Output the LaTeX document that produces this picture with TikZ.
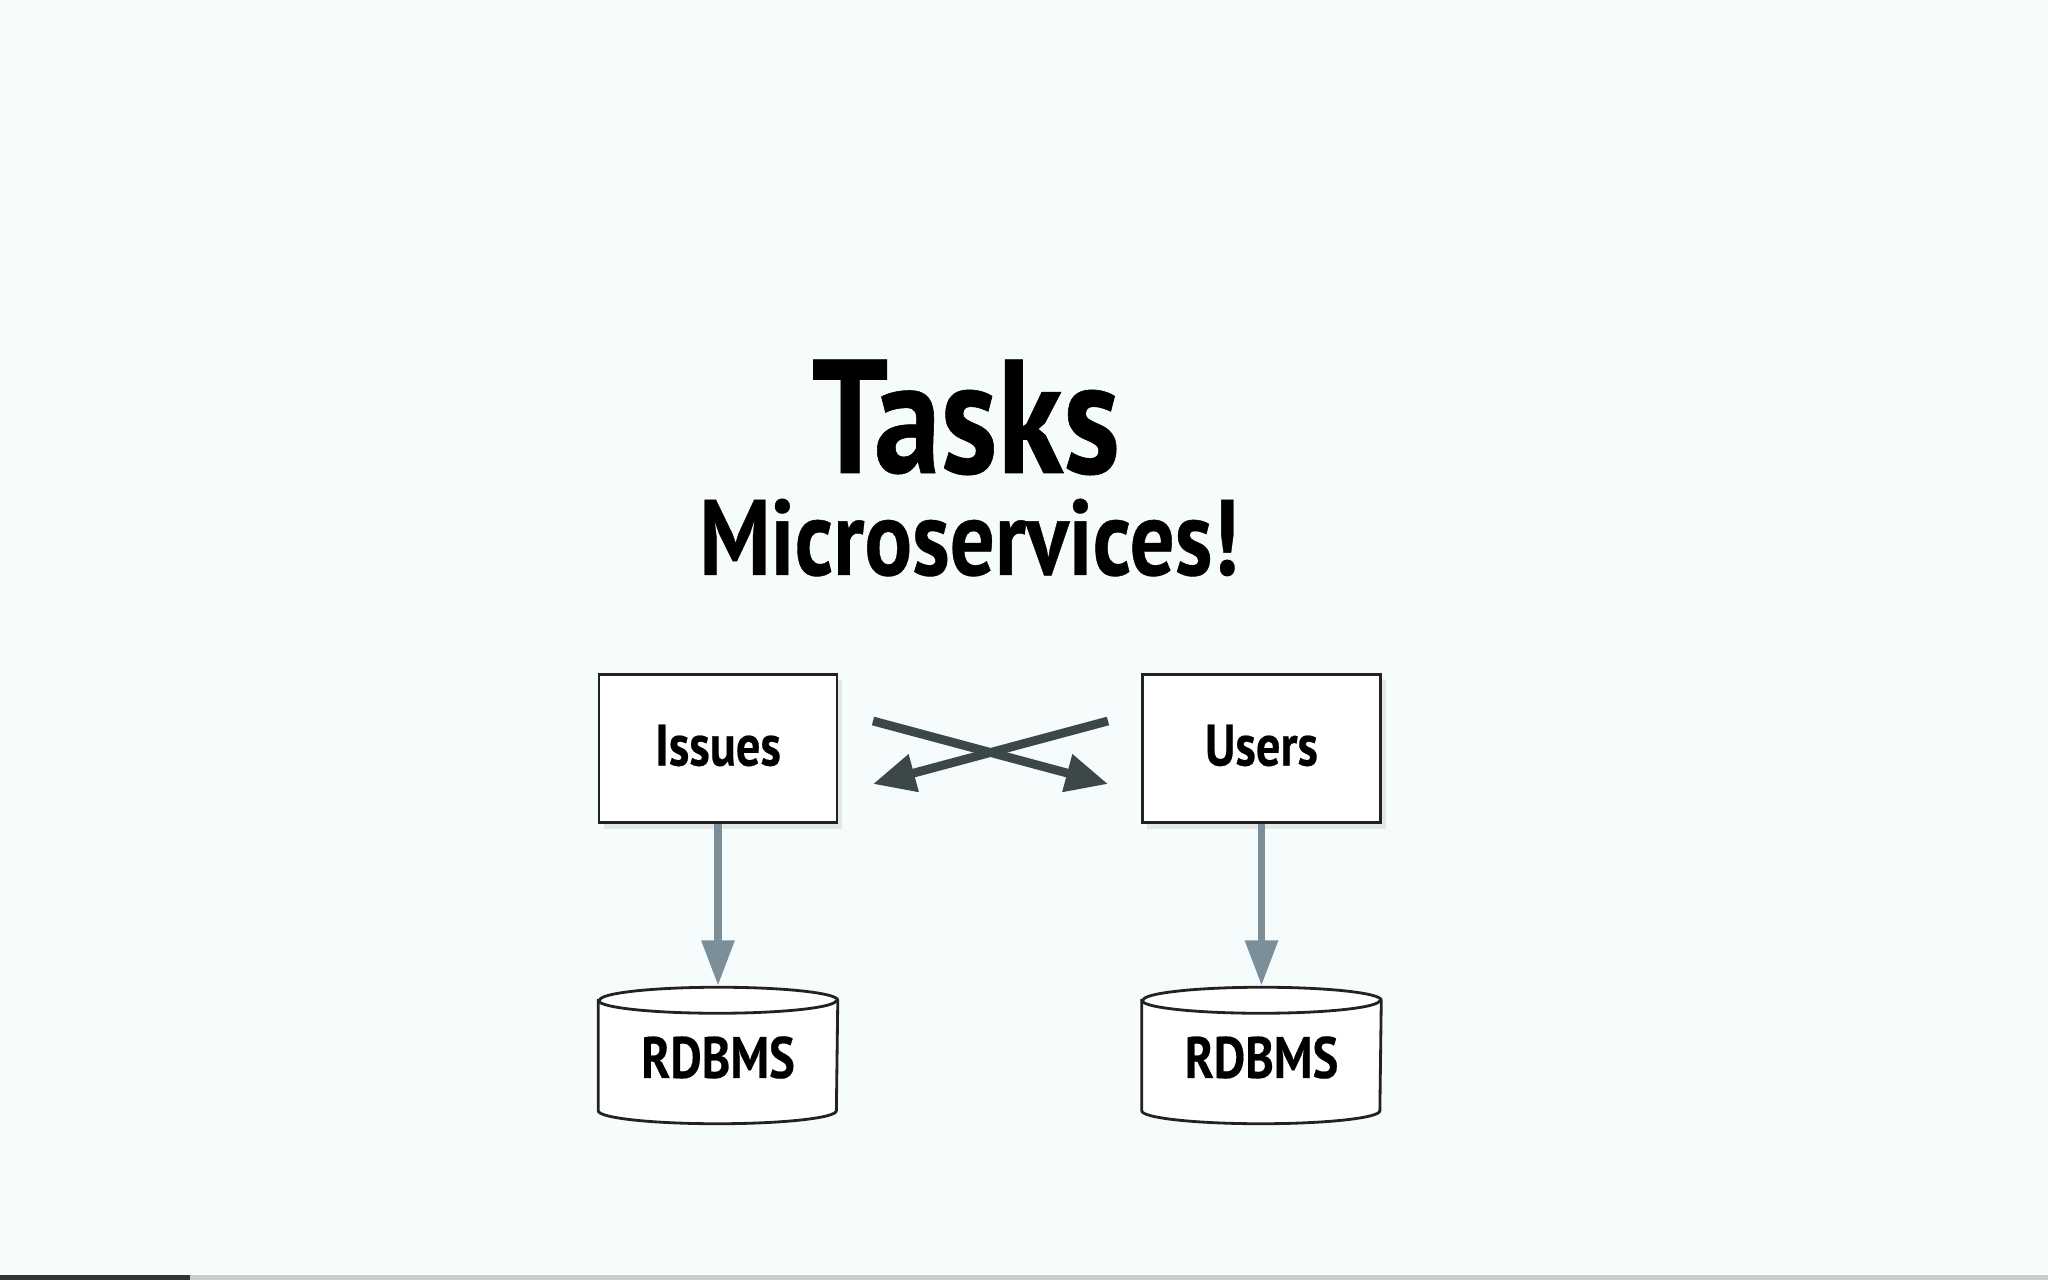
\documentclass[tikz,border=0pt]{standalone}
\usepackage{fontspec}
\setmainfont{PT Sans}[FakeStretch=0.83, BoldFeatures={FakeBold=0.35}]
\usetikzlibrary{arrows.meta,shadows,calc}
\definecolor{bgc}{HTML}{F6FBFB}
\definecolor{crossc}{HTML}{3B4749}
\definecolor{vertc}{HTML}{7B8F9B}
\definecolor{edgec}{HTML}{222222}
\tikzset{
  box/.style={draw=edgec, line width=0.8pt, fill=white, minimum width=2.38cm, minimum height=1.48cm,
    inner sep=0pt, drop shadow={shadow xshift=0.05cm, shadow yshift=-0.06cm, opacity=0.16}},
  lbl/.style={inner sep=0pt, font=\bfseries\fontsize{16.6}{18}\selectfont},
  dbnode/.style={minimum width=2.38cm, minimum height=1.35cm, inner sep=0pt},
  cyl/.style={draw=edgec, line width=0.8pt, fill=white},
  cylshadow/.style={fill=black, opacity=0.12},
  vert/.style={draw=vertc, line width=2pt, -{Triangle[length=12.8pt,width=9pt]}, shorten >=0.5pt},
  cross/.style={draw=crossc, line width=2.5pt, -{Triangle[length=12pt,width=10.5pt]}},
  ttl/.style={font=\bfseries\fontsize{46}{50}\selectfont, anchor=base, inner sep=0pt},
  subttl/.style={font=\bfseries\fontsize{30.5}{34}\selectfont, anchor=base, inner sep=0pt}
}
\begin{document}
\begin{tikzpicture}[x=0.01cm, y=-0.01cm]
\useasboundingbox (0,0) rectangle (2048,1280);
\fill[bgc] (0,0) rectangle (2048,1280);
% progress bar
\fill[black!80] (0,1275) rectangle (190,1280);
\fill[black!20] (190,1275) rectangle (2048,1280);
% titles
\node[ttl] (tasks) at (966,473) {Tasks};
\node[subttl] (micro) at (969,575) {Microservices!};
% boxes
\node[box] (issues) at (718,748.5) {};
\node[box] (users) at (1261.5,748.5) {};
\node[lbl] (issuest) at ($(issues)+(0,-3)$) {Issues};
\node[lbl] (userst) at ($(users)+(0,-3)$) {Users};
% database nodes
\node[dbnode] (db1) at (718,1055.5) {};
\node[dbnode] (db2) at (1261.5,1055.5) {};
\foreach \d in {db1,db2}{
  \begin{scope}[shift={(0.06cm,-0.07cm)}]
    \fill[cylshadow] ($(\d.north west)+(0,13)$) -- ($(\d.south west)+(0,-13)$) arc[start angle=180,end angle=360,x radius=1.19cm,y radius=0.13cm] -- ($(\d.north east)+(0,13)$) arc[start angle=0,end angle=180,x radius=1.19cm,y radius=0.13cm] -- cycle;
  \end{scope}
  \draw[cyl] ($(\d.north west)+(0,13)$) -- ($(\d.south west)+(0,-13)$) arc[start angle=180,end angle=360,x radius=1.19cm,y radius=0.13cm] -- ($(\d.north east)+(0,13)$) arc[start angle=0,end angle=180,x radius=1.19cm,y radius=0.13cm] -- cycle;
  \draw[draw=edgec, line width=0.8pt] ($(\d.north west)+(0,13)$) arc[start angle=180,end angle=360,x radius=1.19cm,y radius=0.13cm];
}
\node[lbl] (db1t) at ($(db1)+(0,2)$) {RDBMS};
\node[lbl] (db2t) at ($(db2)+(0,2)$) {RDBMS};
% vertical arrows
\draw[vert] (issues.south) -- (db1.north);
\draw[vert] (users.south) -- (db2.north);
% cross arrows
\coordinate (c1s) at (873,721);
\coordinate (c1e) at (1108,784);
\coordinate (c2s) at (1108,721);
\coordinate (c2e) at (873,784);
\draw[cross] (c1s) -- (c1e);
\draw[cross] (c2s) -- (c2e);
\end{tikzpicture}
\end{document}
